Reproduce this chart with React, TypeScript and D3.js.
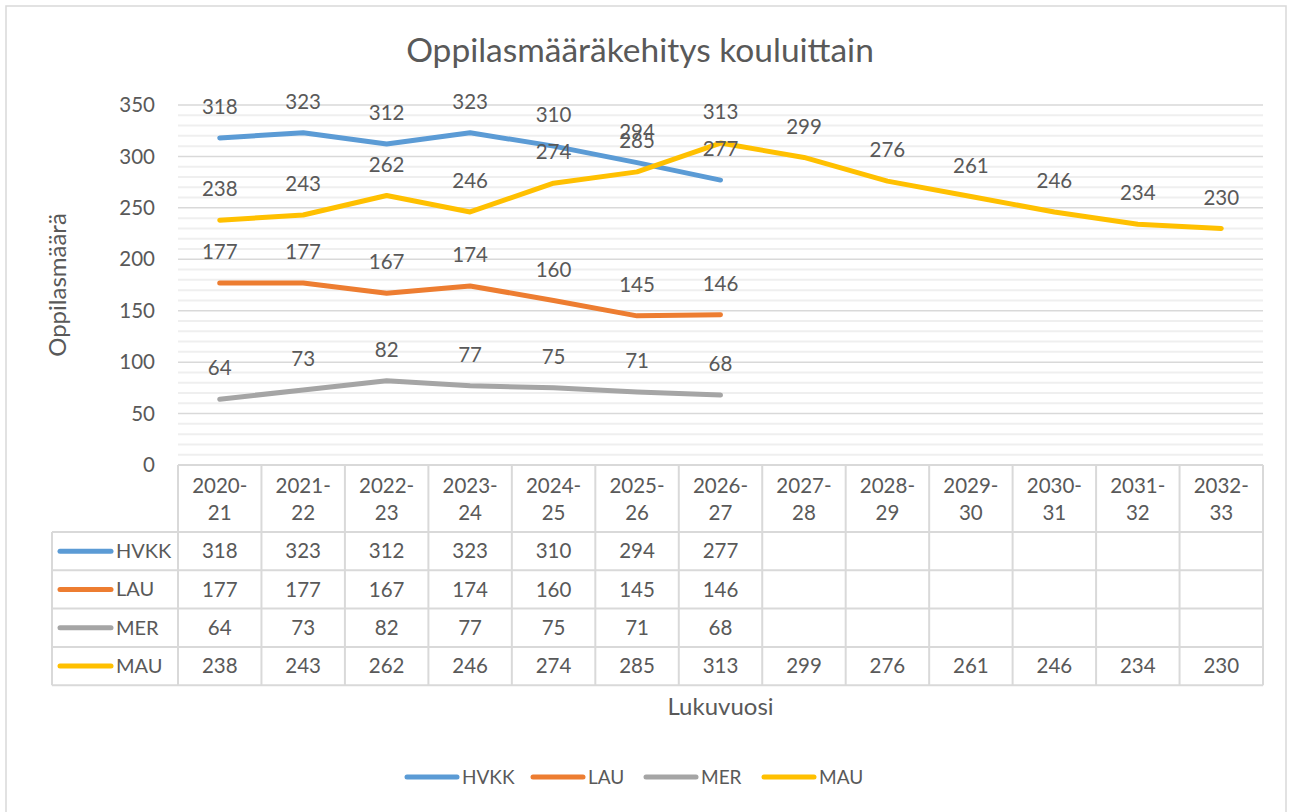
import React from "react";
import * as d3 from "d3";

const years = ["2020-21", "2021-22", "2022-23", "2023-24", "2024-25", "2025-26", "2026-27",
  "2027-28", "2028-29", "2029-30", "2030-31", "2031-32", "2032-33"];
const seriesNames = ["HVKK", "LAU", "MER", "MAU"];
const hvkk = [318, 323, 312, 323, 310, 294, 277];
const lau = [177, 177, 167, 174, 160, 145, 146];
const mer = [64, 73, 82, 77, 75, 71, 68];
const mau = [238, 243, 262, 246, 274, 285, 313, 299, 276, 261, 246, 234, 230];
const colors = ["#5B9BD5", "#ED7D31", "#A5A5A5", "#FFC000"];
const yTicks = [0, 50, 100, 150, 200, 250, 300, 350];

const font = "Lato, 'Open Sans', sans-serif";
const textColor = "#595959";

const App = () => {
  const width = 1292, height = 812;
  const plot = { left: 178, right: 1263, top: 105, bottom: 465 };
  const headerH = 67, rowH = 38.3, tableLeft = 52;

  const x = d3.scaleBand().domain(years).range([plot.left, plot.right]);
  const y = d3.scaleLinear().domain([0, 350]).range([plot.bottom, plot.top]);
  const cx = (d: string) => (x(d) ?? 0) + x.bandwidth() / 2;

  const series = [hvkk, lau, mer, mau].map((vals, i) => ({
    name: seriesNames[i],
    color: colors[i],
    points: vals.map((v, j) => ({ year: years[j], value: v })),
  }));

  const line = d3.line<{ year: string; value: number }>()
    .x(d => cx(d.year))
    .y(d => y(d.value));

  const minor = d3.range(0, 351, 10);
  const tableTop = plot.bottom;
  const tableBottom = tableTop + headerH + rowH * series.length;

  return (
    <svg width={width} height={height} style={{ position: "absolute", left: 0, top: 0 }}
      fontFamily={font}>
      <rect x={0} y={0} width={width} height={height} fill="#fff" />
      <rect x={6} y={6} width={1280} height={820} fill="#fff" stroke="#D9D9D9" strokeWidth={1.5} />

      <text x={640} y={62} textAnchor="middle" fontSize={33.5} fill={textColor}>
        Oppilasmääräkehitys kouluittain
      </text>

      {/* gridlines */}
      {minor.map(v => (
        <line key={v} x1={plot.left} x2={plot.right} y1={y(v)} y2={y(v)}
          stroke={v % 50 === 0 ? "#D9D9D9" : "#EFEFEF"} strokeWidth={v % 50 === 0 ? 1.5 : 2} />
      ))}

      {yTicks.map(t => (
        <text key={t} x={155} y={y(t)} dy="0.35em" textAnchor="end" fontSize={20.5} fill={textColor}>{t}</text>
      ))}

      <text transform={`translate(66,285) rotate(-90)`} textAnchor="middle" fontSize={24} fill={textColor}>
        Oppilasmäärä
      </text>

      {/* lines */}
      {series.map(s => (
        <path key={s.name} d={line(s.points) ?? ""} fill="none" stroke={s.color}
          strokeWidth={5} strokeLinejoin="round" strokeLinecap="round" />
      ))}

      {/* data labels */}
      {series.map(s => s.points.map(p => (
        <text key={s.name + p.year} x={cx(p.year)} y={y(p.value) - 31} dy="0.35em"
          textAnchor="middle" fontSize={20.5} fill={textColor}>{p.value}</text>
      )))}

      {/* data table */}
      <g stroke="#D9D9D9" strokeWidth={2} fill="none">
        {years.map(yr => (
          <line key={yr} x1={x(yr)} x2={x(yr)} y1={tableTop} y2={tableBottom} />
        ))}
        <line x1={plot.right} x2={plot.right} y1={tableTop} y2={tableBottom} />
        <line x1={tableLeft} x2={tableLeft} y1={tableTop + headerH} y2={tableBottom} />
        <line x1={plot.left} x2={plot.right} y1={tableTop} y2={tableTop} />
        {series.map((s, i) => (
          <line key={s.name} x1={tableLeft} x2={plot.right}
            y1={tableTop + headerH + rowH * i} y2={tableTop + headerH + rowH * i} />
        ))}
        <line x1={tableLeft} x2={plot.right} y1={tableBottom} y2={tableBottom} />
      </g>

      {years.map(yr => {
        const [a, b] = yr.split("-");
        return (
          <text key={yr} x={cx(yr)} textAnchor="middle" fontSize={20.5} fill={textColor}>
            <tspan x={cx(yr)} y={tableTop + 21} dy="0.35em">{a}-</tspan>
            <tspan x={cx(yr)} y={tableTop + 48} dy="0.35em">{b}</tspan>
          </text>
        );
      })}

      {series.map((s, i) => {
        const rowY = tableTop + headerH + rowH * i + rowH / 2;
        return (
          <g key={s.name}>
            <line x1={60} x2={111} y1={rowY} y2={rowY} stroke={s.color} strokeWidth={5} strokeLinecap="round" />
            <text x={116} y={rowY} dy="0.35em" fontSize={20} fill={textColor}>{s.name}</text>
            {s.points.map(p => (
              <text key={p.year} x={cx(p.year)} y={rowY} dy="0.35em" textAnchor="middle"
                fontSize={20.5} fill={textColor}>{p.value}</text>
            ))}
          </g>
        );
      })}

      <text x={(plot.left + plot.right) / 2} y={707} dy="0.35em" textAnchor="middle" fontSize={24} fill={textColor}>
        Lukuvuosi
      </text>

      {/* legend */}
      {series.map((s, i) => {
        const lx = [407, 533, 646, 764][i];
        return (
          <g key={s.name}>
            <line x1={lx} x2={lx + 50} y1={777} y2={777} stroke={s.color} strokeWidth={5} strokeLinecap="round" />
            <text x={lx + 55} y={777} dy="0.35em" fontSize={19} fill={textColor}>{s.name}</text>
          </g>
        );
      })}
    </svg>
  );
};

export default App;
